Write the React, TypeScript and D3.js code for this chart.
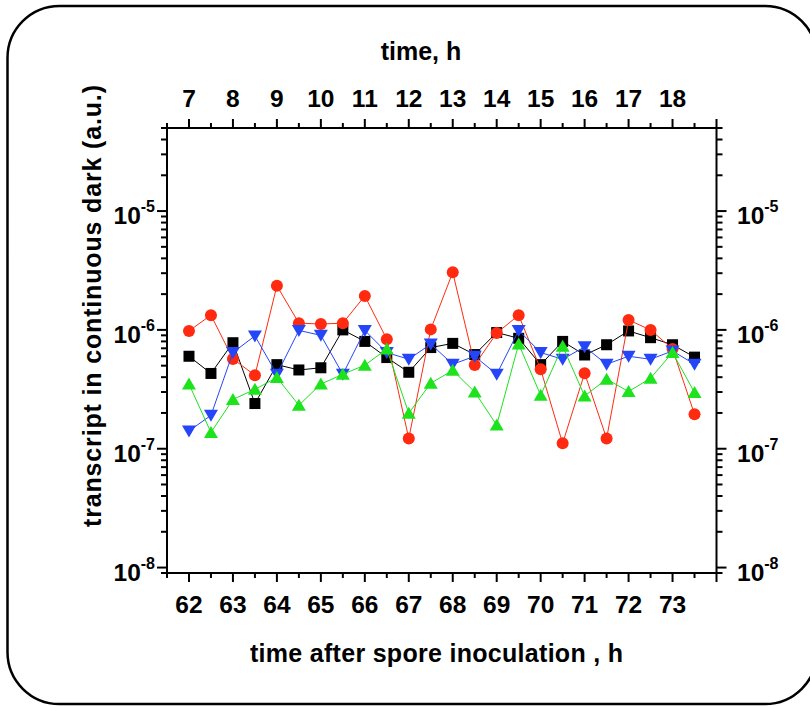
import React from 'react';
import * as d3 from 'd3';

const hours = [62, 62.5, 63, 63.5, 64, 64.5, 65, 65.5, 66, 66.5, 67, 67.5, 68, 68.5, 69, 69.5, 70, 70.5, 71, 71.5, 72, 72.5, 73, 73.5];

const blackSeries = [6.0e-7, 4.3e-7, 7.8e-7, 2.4e-7, 5.1e-7, 4.6e-7, 4.8e-7, 1.0e-6, 8.0e-7, 5.85e-7, 4.4e-7, 7.1e-7, 7.7e-7, 6.2e-7, 9.5e-7, 8.5e-7, 5.1e-7, 8.0e-7, 6.15e-7, 7.5e-7, 9.8e-7, 8.6e-7, 7.5e-7, 5.9e-7];
const redSeries = [9.8e-7, 1.33e-6, 5.7e-7, 4.15e-7, 2.35e-6, 1.14e-6, 1.12e-6, 1.14e-6, 1.93e-6, 8.35e-7, 1.22e-7, 1.01e-6, 3.05e-6, 5.07e-7, 9.4e-7, 1.33e-6, 4.66e-7, 1.11e-7, 4.32e-7, 1.22e-7, 1.21e-6, 1.0e-6, 6.9e-7, 1.95e-7];
const blueSeries = [1.41e-7, 1.91e-7, 6.45e-7, 8.9e-7, 4.23e-7, 9.9e-7, 9.0e-7, 4.23e-7, 9.9e-7, 6.45e-7, 5.66e-7, 7.6e-7, 5.14e-7, 6.0e-7, 4.23e-7, 9.9e-7, 6.45e-7, 5.66e-7, 7.2e-7, 5.14e-7, 6.0e-7, 5.66e-7, 6.65e-7, 5.14e-7];
const greenSeries = [3.5e-7, 1.37e-7, 2.6e-7, 3.16e-7, 3.97e-7, 2.32e-7, 3.5e-7, 4.23e-7, 5.05e-7, 6.9e-7, 1.99e-7, 3.56e-7, 4.57e-7, 3.0e-7, 1.58e-7, 7.6e-7, 2.82e-7, 7.3e-7, 2.78e-7, 3.85e-7, 3.03e-7, 3.92e-7, 6.45e-7, 2.97e-7];

const bottomTickValues = [62, 63, 64, 65, 66, 67, 68, 69, 70, 71, 72, 73];
const topTickLabels = ['7', '8', '9', '10', '11', '12', '13', '14', '15', '16', '17', '18'];
const yDecades = [1e-8, 1e-7, 1e-6, 1e-5];
const yDecadeExps = ['-8', '-7', '-6', '-5'];

const BLACK = '#000000';
const RED = '#ff2a10';
const BLUE = '#2446f8';
const GREEN = '#1de31d';

const FONT = '"Liberation Sans", Arial, Helvetica, sans-serif';

export default function App() {
  const left = 167, right = 716.5, top = 128, bottom = 573;
  const x = d3.scaleLinear().domain([61.5, 74]).range([left, right]);
  const y = d3.scaleLog().domain([9e-9, 5e-5]).range([bottom, top]);

  const xTicks = d3.range(61.5, 74.001, 0.5);
  const yTicks = y.ticks();
  const isDecade = (v: number) => Math.abs(Math.log10(v) - Math.round(Math.log10(v))) < 1e-6;

  const line = d3.line<number>()
    .x((_, i) => x(hours[i]))
    .y((v) => y(v));

  const series = [
    { data: blackSeries, color: BLACK, shape: 'square' },
    { data: redSeries, color: RED, shape: 'circle' },
    { data: blueSeries, color: BLUE, shape: 'down' },
    { data: greenSeries, color: GREEN, shape: 'up' },
  ];

  const marker = (shape: string, cx: number, cy: number, color: string, key: number) => {
    if (shape === 'square') return <rect key={key} x={cx - 5.5} y={cy - 5.5} width={11} height={11} fill={color} />;
    if (shape === 'circle') return <circle key={key} cx={cx} cy={cy} r={6} fill={color} />;
    if (shape === 'down') return <path key={key} d={`M${cx - 7},${cy - 5.5} L${cx + 7},${cy - 5.5} L${cx},${cy + 6.5} Z`} fill={color} />;
    return <path key={key} d={`M${cx - 7},${cy + 5.5} L${cx + 7},${cy + 5.5} L${cx},${cy - 6.5} Z`} fill={color} />;
  };

  return (
    <div style={{ position: 'absolute', left: 0, top: 0 }}>
      <svg width={810} height={706} style={{ display: 'block', fontFamily: FONT }}>
        <rect x={0} y={0} width={810} height={706} fill="#ffffff" />
        <rect x={7.5} y={6} width={809.5} height={698} rx={52} ry={52} fill="none" stroke="#000" strokeWidth={2.5} />

        {/* series */}
        {series.map((s, si) => (
          <g key={si}>
            <path d={line(s.data) || ''} fill="none" stroke={s.color} strokeWidth={1} />
            {s.data.map((v, i) => marker(s.shape, x(hours[i]), y(v), s.color, i))}
          </g>
        ))}

        {/* frame */}
        <rect x={left} y={top} width={right - left} height={bottom - top} fill="none" stroke="#000" strokeWidth={2} />

        {/* x ticks bottom & top */}
        {xTicks.map((t, i) => {
          const major = Math.abs(t - Math.round(t)) < 1e-6;
          const len = major ? 9 : 5;
          return (
            <g key={i}>
              <line x1={x(t)} x2={x(t)} y1={bottom} y2={bottom + len} stroke="#000" strokeWidth={2} />
              <line x1={x(t)} x2={x(t)} y1={top} y2={top - len} stroke="#000" strokeWidth={2} />
            </g>
          );
        })}
        {bottomTickValues.map((t, i) => (
          <text key={i} x={x(t)} y={613} textAnchor="middle" fontSize={24.5} fontWeight="bold">{t}</text>
        ))}
        {bottomTickValues.map((t, i) => (
          <text key={i} x={x(t)} y={107} textAnchor="middle" fontSize={24.5} fontWeight="bold">{topTickLabels[i]}</text>
        ))}

        {/* y ticks left & right */}
        {yTicks.map((t, i) => {
          const major = isDecade(t);
          const len = major ? 10 : 6;
          return (
            <g key={i}>
              <line x1={left} x2={left - len} y1={y(t)} y2={y(t)} stroke="#000" strokeWidth={2} />
              <line x1={right} x2={right + len} y1={y(t)} y2={y(t)} stroke="#000" strokeWidth={2} />
            </g>
          );
        })}
        {yDecades.map((d, i) => (
          <g key={i}>
            <text x={155} y={y(d) + 13} textAnchor="end" fontSize={24.5} fontWeight="bold">
              10<tspan fontSize={16} dy={-12}>{yDecadeExps[i]}</tspan>
            </text>
            <text x={737} y={y(d) + 13} textAnchor="start" fontSize={24.5} fontWeight="bold">
              10<tspan fontSize={16} dy={-12}>{yDecadeExps[i]}</tspan>
            </text>
          </g>
        ))}

        {/* titles */}
        <text x={421} y={60} textAnchor="middle" fontSize={25} fontWeight="bold">time, h</text>
        <text x={436.5} y={662} textAnchor="middle" fontSize={25} fontWeight="bold" textLength={373} lengthAdjust="spacing">time after spore inoculation , h</text>
        <text transform="translate(101,306) rotate(-90)" textAnchor="middle" fontSize={25} fontWeight="bold" textLength={442} lengthAdjust="spacing">transcript in continuous dark (a.u.)</text>
      </svg>
    </div>
  );
}
